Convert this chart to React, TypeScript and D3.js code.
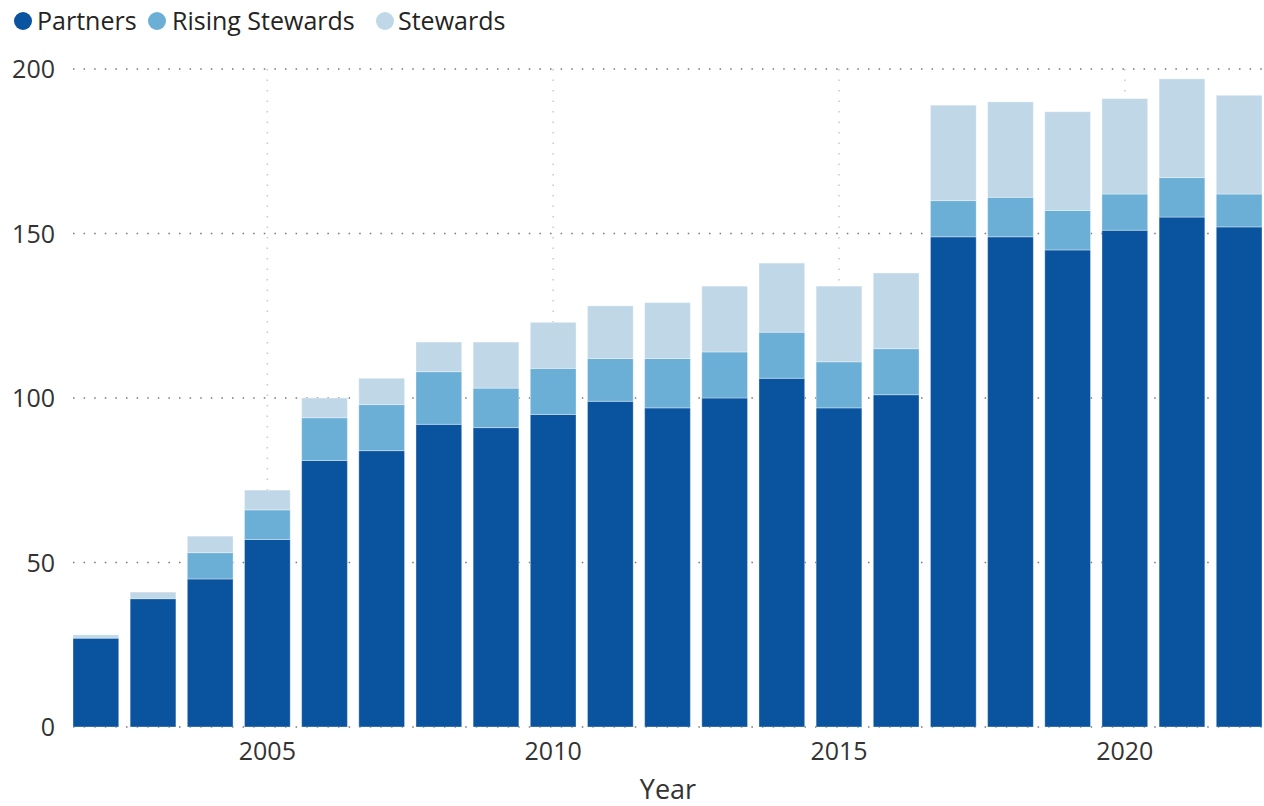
import React from "react";
import * as d3 from "d3";

const years = [2002, 2003, 2004, 2005, 2006, 2007, 2008, 2009, 2010, 2011, 2012, 2013, 2014, 2015, 2016, 2017, 2018, 2019, 2020, 2021, 2022];
const partners = [27, 39, 45, 57, 81, 84, 92, 91, 95, 99, 97, 100, 106, 97, 101, 149, 149, 145, 151, 155, 152];
const risingStewards = [0, 0, 8, 9, 13, 14, 16, 12, 14, 13, 15, 14, 14, 14, 14, 11, 12, 12, 11, 12, 10];
const stewards = [1, 2, 5, 6, 6, 8, 9, 14, 14, 16, 17, 20, 21, 23, 23, 29, 29, 30, 29, 30, 30];
const seriesNames = ["Partners", "Rising Stewards", "Stewards"];
const seriesColors = ["#0A539E", "#6BAED6", "#BFD7E7"];
const yTicks = [0, 50, 100, 150, 200];
const xTicks = [2005, 2010, 2015, 2020];

const W = 1264;
const H = 806;
const FONT = "'Open Sans', 'Noto Sans', sans-serif";

export default function App() {
  const x = d3.scaleLinear().domain([2001.6, 2022.4]).range([73, 1262]);
  const y = d3.scaleLinear().domain([0, 200]).range([727, 69]);
  const rows = years.map((yr, i) => ({ year: yr, Partners: partners[i], "Rising Stewards": risingStewards[i], Stewards: stewards[i] }));
  const stack = d3.stack<any>().keys(seriesNames)(rows);
  const bw = x(2002.4) - x(2001.6);

  const legendItems = [
    { cx: 23, tx: 37 },
    { cx: 157, tx: 172 },
    { cx: 385, tx: 398 },
  ];

  return (
    <svg width={W} height={H} style={{ position: "absolute", left: 0, top: 0 }} fontFamily={FONT}>
      <rect width={W} height={H} fill="#fff" />
      {xTicks.map((t) => (
        <line key={"vg" + t} x1={x(t)} x2={x(t)} y1={y(200)} y2={y(0)} stroke="#c8c8c8" strokeWidth={1.5} strokeDasharray="1.5 9" />
      ))}
      {yTicks.map((t) => (
        <line key={"hg" + t} x1={73} x2={W} y1={y(t)} y2={y(t)} stroke="#777" strokeWidth={1.5} strokeDasharray="1.5 9.1" />
      ))}
      {stack.map((s, si) => (
        <g key={si} fill={seriesColors[si]}>
          {s.map((d, i) =>
            d[1] - d[0] > 0 ? (
              <rect key={i} x={x(years[i]) - bw / 2} width={bw} y={y(d[1])} height={y(d[0]) - y(d[1])} stroke="rgba(255,255,255,0.35)" strokeWidth={1} />
            ) : null
          )}
        </g>
      ))}
      {yTicks.map((t) => (
        <text key={"yt" + t} x={55} y={y(t)} dy="0.36em" textAnchor="end" fontSize={25} fill="#333">
          {t}
        </text>
      ))}
      {xTicks.map((t) => (
        <text key={"xt" + t} x={x(t)} y={760} textAnchor="middle" fontSize={25} fill="#333">
          {t}
        </text>
      ))}
      <text x={668} y={799} textAnchor="middle" fontSize={27} fill="#333">Year</text>
      {seriesNames.map((n, i) => (
        <g key={"lg" + n}>
          <circle cx={legendItems[i].cx} cy={21} r={9} fill={seriesColors[i]} />
          <text x={legendItems[i].tx} y={30} fontSize={25} fill="#252423">{n}</text>
        </g>
      ))}
    </svg>
  );
}
